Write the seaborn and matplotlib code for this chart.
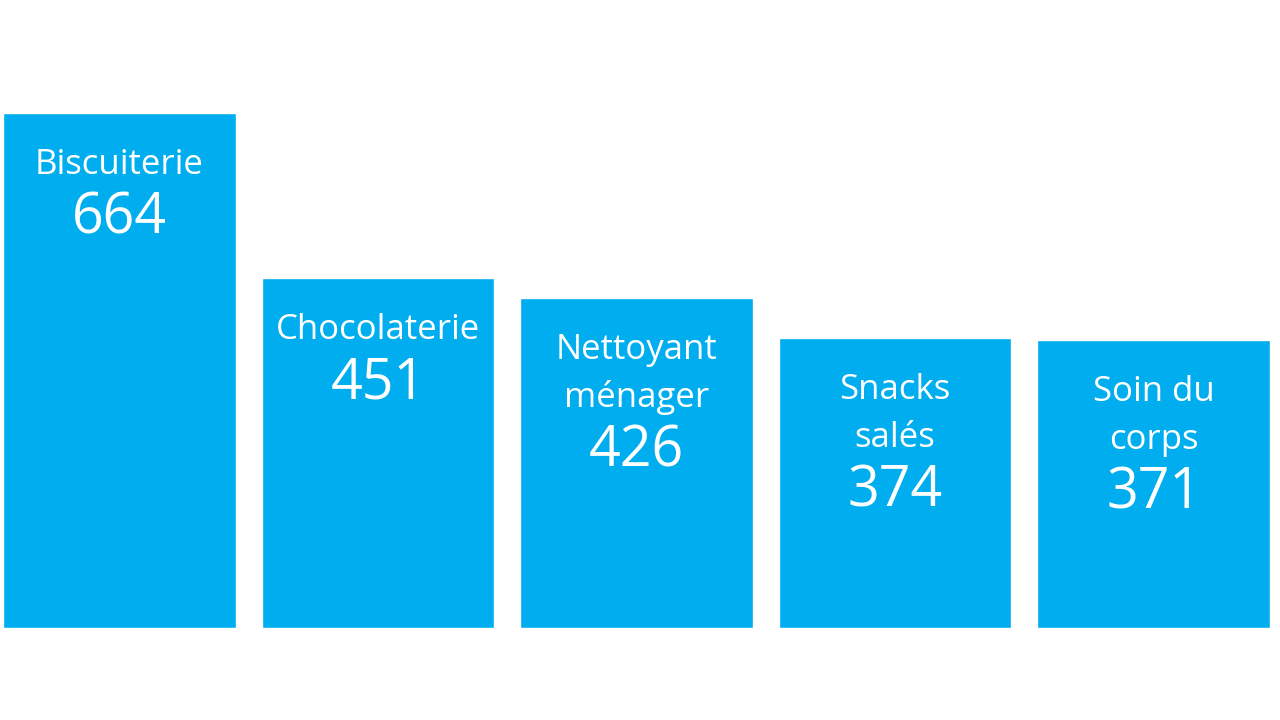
import matplotlib
matplotlib.use("Agg")
import matplotlib.pyplot as plt
import seaborn as sns
import pandas as pd

categories = ["Biscuiterie", "Chocolaterie", "Nettoyant\nménager", "Snacks\nsalés", "Soin du\ncorps"]
values = [664, 451, 426, 374, 371]

sns.set_style("white")
plt.rcParams['font.family'] = ['Open Sans', 'DejaVu Sans']

df = pd.DataFrame({"cat": categories, "val": values})
fig = plt.figure(figsize=(12.8, 7.2), dpi=100)
ax = fig.add_axes([3/1280, 92/720, 1267/1280, 515/720])
sns.barplot(data=df, x="cat", y="val", color="#00AEEF", saturation=1, width=0.9, ax=ax)
ax.set_xlim(-0.45, 4.45)
ax.set_ylim(0, 664)
ax.axis("off")

for i, (c, v) in enumerate(zip(categories, values)):
    lines = c.split("\n")
    for j, ln in enumerate(lines):
        ax.annotate(ln, (i, v), xytext=(0, -52 - 48 * j), textcoords="offset pixels",
                    ha="center", va="center", color="white", fontsize=25)
    ax.annotate(str(v), (i, v), xytext=(0, -52 - 48 * (len(lines) - 1) - 54),
                textcoords="offset pixels", ha="center", va="center",
                color="white", fontsize=40)

fig.savefig("out.png", dpi=100)
